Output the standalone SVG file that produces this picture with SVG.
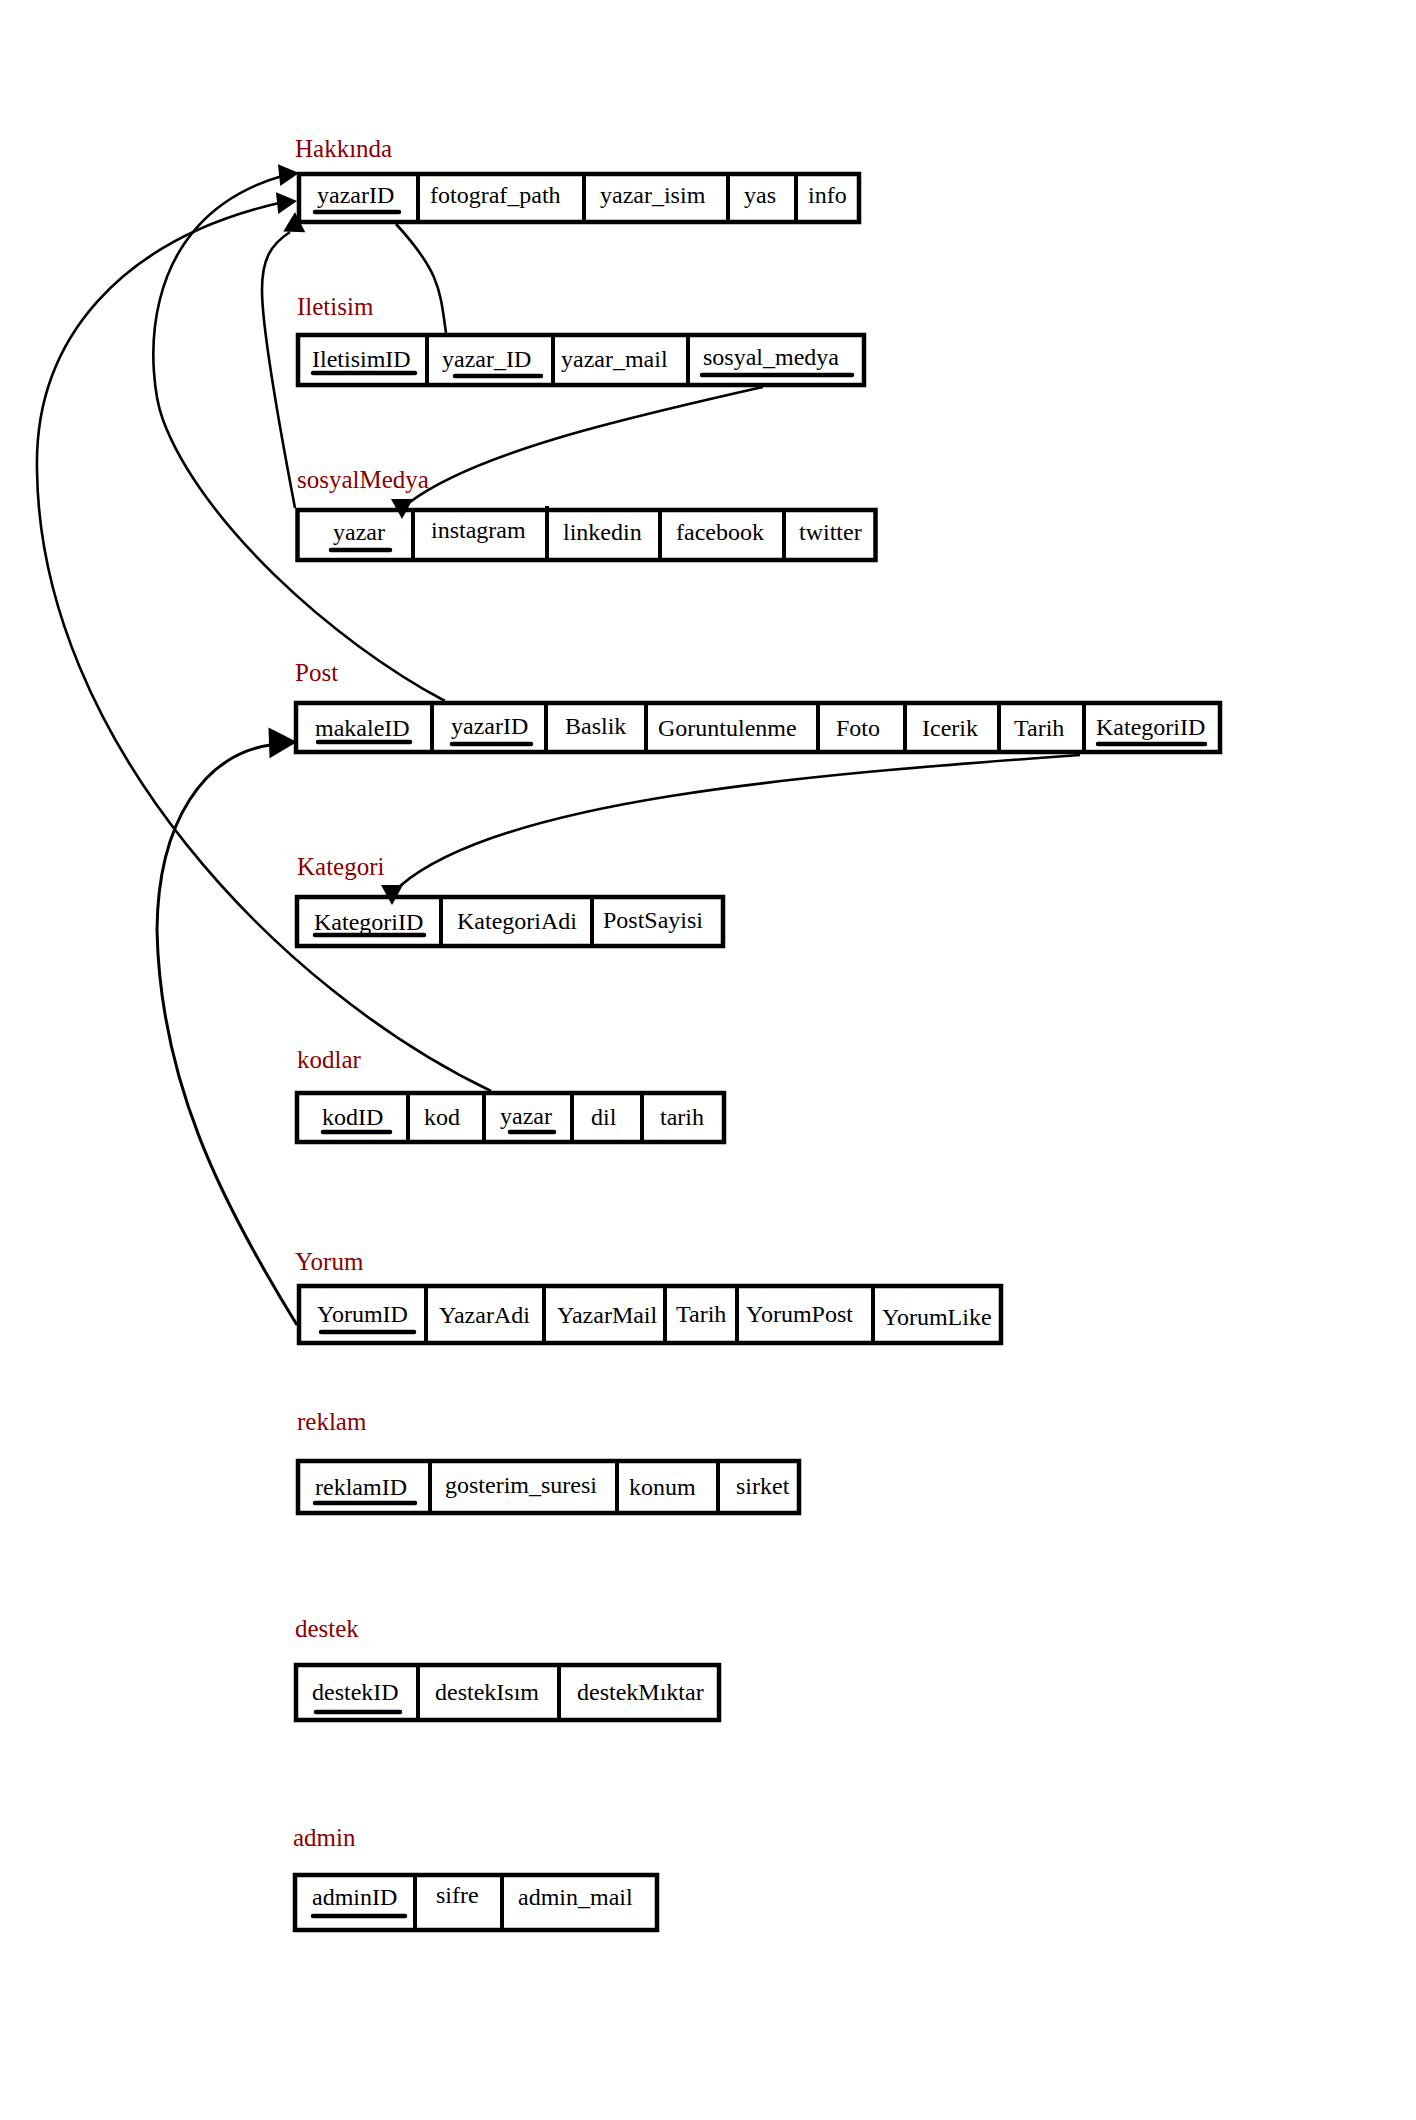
<svg xmlns="http://www.w3.org/2000/svg" xmlns:xlink="http://www.w3.org/1999/xlink" width="1416" height="2120" viewBox="0 0 1416 2120">
  <style>
    .title { font-family: "Liberation Serif", "Times New Roman", serif; font-size: 25px; fill: #8b0000; }
    .field { font-family: "Liberation Serif", "Times New Roman", serif; font-size: 24px; fill: #000; }
    .box { fill: #fff; stroke: #000; stroke-width: 4.5; }
    .sep { stroke: #000; stroke-width: 4; }
    .key { stroke: #000; stroke-width: 4.5; stroke-linecap: round; }
    .link { fill: none; stroke: #000; stroke-width: 2.6; }
    .head { fill: #000; }
  </style>
  <defs>
    <!-- filled arrowhead, tip at origin, pointing along +x -->
    <path id="arrow" d="M0,0 L-20,-11 L-20,11 Z"/>
  </defs>
  <rect width="1416" height="2120" fill="#fff"/>

  <!-- Hakkında -->
  <g id="hakkinda">
    <text class="title" x="295" y="157">Hakkında</text>
    <rect class="box" x="299" y="174" width="560" height="48"/>
    <line class="sep" x1="418" y1="174" x2="418" y2="222"/>
    <line class="sep" x1="584" y1="174" x2="584" y2="222"/>
    <line class="sep" x1="728" y1="174" x2="728" y2="222"/>
    <line class="sep" x1="796" y1="174" x2="796" y2="222"/>
    <text class="field" x="317" y="203">yazarID</text>
    <line class="key" x1="315" y1="212" x2="399" y2="212"/>
    <text class="field" x="430" y="203">fotograf_path</text>
    <text class="field" x="600" y="203">yazar_isim</text>
    <text class="field" x="744" y="203">yas</text>
    <text class="field" x="808" y="203">info</text>
  </g>

  <!-- Iletisim -->
  <g id="iletisim">
    <text class="title" x="297" y="315">Iletisim</text>
    <rect class="box" x="298" y="335" width="566" height="50"/>
    <line class="sep" x1="427" y1="335" x2="427" y2="385"/>
    <line class="sep" x1="553" y1="335" x2="553" y2="385"/>
    <line class="sep" x1="688" y1="335" x2="688" y2="385"/>
    <text class="field" x="312" y="367">IletisimID</text>
    <line class="key" x1="313" y1="373" x2="415" y2="373"/>
    <text class="field" x="442" y="367">yazar_ID</text>
    <line class="key" x1="455" y1="376" x2="541" y2="376"/>
    <text class="field" x="561" y="367">yazar_mail</text>
    <text class="field" x="703" y="365">sosyal_medya</text>
    <line class="key" x1="702" y1="375" x2="852" y2="375"/>
  </g>

  <!-- sosyalMedya -->
  <g id="sosyalMedya">
    <text class="title" x="297" y="488">sosyalMedya</text>
    <rect class="box" x="297.5" y="510" width="578" height="50"/>
    <line class="sep" x1="413" y1="510" x2="413" y2="560"/>
    <line class="sep" x1="547" y1="506" x2="547" y2="560"/>
    <line class="sep" x1="660" y1="510" x2="660" y2="560"/>
    <line class="sep" x1="784" y1="510" x2="784" y2="560"/>
    <text class="field" x="333" y="540">yazar</text>
    <line class="key" x1="331" y1="550" x2="390" y2="550"/>
    <text class="field" x="431" y="538">instagram</text>
    <text class="field" x="563" y="540">linkedin</text>
    <text class="field" x="676" y="540">facebook</text>
    <text class="field" x="799" y="540">twitter</text>
  </g>

  <!-- Post -->
  <g id="post">
    <text class="title" x="295" y="681">Post</text>
    <rect class="box" x="296" y="703" width="924" height="49"/>
    <line class="sep" x1="432" y1="703" x2="432" y2="752"/>
    <line class="sep" x1="546" y1="703" x2="546" y2="752"/>
    <line class="sep" x1="646" y1="703" x2="646" y2="752"/>
    <line class="sep" x1="818" y1="703" x2="818" y2="752"/>
    <line class="sep" x1="905" y1="703" x2="905" y2="752"/>
    <line class="sep" x1="999" y1="703" x2="999" y2="752"/>
    <line class="sep" x1="1084" y1="703" x2="1084" y2="752"/>
    <text class="field" x="315" y="736">makaleID</text>
    <line class="key" x1="318" y1="742" x2="410" y2="742"/>
    <text class="field" x="451" y="734">yazarID</text>
    <line class="key" x1="452" y1="744" x2="531" y2="744"/>
    <text class="field" x="565" y="734">Baslik</text>
    <text class="field" x="658" y="736">Goruntulenme</text>
    <text class="field" x="836" y="736">Foto</text>
    <text class="field" x="922" y="736">Icerik</text>
    <text class="field" x="1014" y="736">Tarih</text>
    <text class="field" x="1096" y="735">KategoriID</text>
    <line class="key" x1="1098" y1="744" x2="1205" y2="744"/>
  </g>

  <!-- Kategori -->
  <g id="kategori">
    <text class="title" x="297" y="875">Kategori</text>
    <rect class="box" x="297" y="897" width="426" height="49"/>
    <line class="sep" x1="441" y1="897" x2="441" y2="946"/>
    <line class="sep" x1="592" y1="897" x2="592" y2="946"/>
    <text class="field" x="314" y="930">KategoriID</text>
    <line class="key" x1="315" y1="935" x2="424" y2="935"/>
    <text class="field" x="457" y="929">KategoriAdi</text>
    <text class="field" x="603" y="928">PostSayisi</text>
  </g>

  <!-- kodlar -->
  <g id="kodlar">
    <text class="title" x="297" y="1068">kodlar</text>
    <rect class="box" x="297" y="1093" width="427" height="49"/>
    <line class="sep" x1="408" y1="1093" x2="408" y2="1142"/>
    <line class="sep" x1="484" y1="1093" x2="484" y2="1142"/>
    <line class="sep" x1="572" y1="1093" x2="572" y2="1142"/>
    <line class="sep" x1="642" y1="1093" x2="642" y2="1142"/>
    <text class="field" x="322" y="1125">kodID</text>
    <line class="key" x1="323" y1="1132" x2="390" y2="1132"/>
    <text class="field" x="424" y="1125">kod</text>
    <text class="field" x="500" y="1124">yazar</text>
    <line class="key" x1="510" y1="1132" x2="554" y2="1132"/>
    <text class="field" x="591" y="1125">dil</text>
    <text class="field" x="660" y="1125">tarih</text>
  </g>

  <!-- Yorum -->
  <g id="yorum">
    <text class="title" x="295" y="1270">Yorum</text>
    <rect class="box" x="299" y="1286" width="702" height="57"/>
    <line class="sep" x1="426" y1="1286" x2="426" y2="1343"/>
    <line class="sep" x1="544" y1="1286" x2="544" y2="1343"/>
    <line class="sep" x1="665" y1="1286" x2="665" y2="1343"/>
    <line class="sep" x1="737" y1="1286" x2="737" y2="1343"/>
    <line class="sep" x1="873" y1="1286" x2="873" y2="1343"/>
    <text class="field" x="317" y="1322">YorumID</text>
    <line class="key" x1="321" y1="1332" x2="414" y2="1332"/>
    <text class="field" x="439" y="1323">YazarAdi</text>
    <text class="field" x="557" y="1323">YazarMail</text>
    <text class="field" x="676" y="1322">Tarih</text>
    <text class="field" x="746" y="1322">YorumPost</text>
    <text class="field" x="882" y="1325">YorumLike</text>
  </g>

  <!-- reklam -->
  <g id="reklam">
    <text class="title" x="297" y="1430">reklam</text>
    <rect class="box" x="298" y="1461" width="501" height="52"/>
    <line class="sep" x1="430" y1="1461" x2="430" y2="1513"/>
    <line class="sep" x1="617" y1="1461" x2="617" y2="1513"/>
    <line class="sep" x1="718" y1="1461" x2="718" y2="1513"/>
    <text class="field" x="315" y="1495">reklamID</text>
    <line class="key" x1="315" y1="1503" x2="415" y2="1503"/>
    <text class="field" x="445" y="1493">gosterim_suresi</text>
    <text class="field" x="629" y="1495">konum</text>
    <text class="field" x="736" y="1494">sirket</text>
  </g>

  <!-- destek -->
  <g id="destek">
    <text class="title" x="295" y="1637">destek</text>
    <rect class="box" x="296" y="1665" width="423" height="55"/>
    <line class="sep" x1="418" y1="1665" x2="418" y2="1720"/>
    <line class="sep" x1="559" y1="1665" x2="559" y2="1720"/>
    <text class="field" x="312" y="1700">destekID</text>
    <line class="key" x1="316" y1="1712" x2="400" y2="1712"/>
    <text class="field" x="435" y="1700">destekIsım</text>
    <text class="field" x="577" y="1700">destekMıktar</text>
  </g>

  <!-- admin -->
  <g id="admin">
    <text class="title" x="293" y="1846">admin</text>
    <rect class="box" x="295" y="1875" width="362" height="55"/>
    <line class="sep" x1="415" y1="1875" x2="415" y2="1930"/>
    <line class="sep" x1="502" y1="1875" x2="502" y2="1930"/>
    <text class="field" x="312" y="1905">adminID</text>
    <line class="key" x1="313" y1="1916" x2="405" y2="1916"/>
    <text class="field" x="436" y="1903">sifre</text>
    <text class="field" x="518" y="1905">admin_mail</text>
  </g>

  <!-- relations -->
  <g id="connectors">
    <!-- Hakkında.yazarID – Iletisim.yazar_ID -->
    <path class="link" d="M396,224 C440,272 440,290 446,333"/>
    <!-- Iletisim.sosyal_medya -> sosyalMedya.yazar -->
    <path class="link" d="M763,387 C640,415 480,450 410,502"/>
    <use xlink:href="#arrow" class="head" transform="translate(402,519) rotate(90)"/>
    <!-- sosyalMedya -> Hakkında -->
    <path class="link" d="M295,508 C282,440 262,330 262,290 C262,260 270,245 290,232"/>
    <use xlink:href="#arrow" class="head" transform="translate(295,212) rotate(-88)"/>
    <!-- Post.yazarID -> Hakkında.yazarID -->
    <path class="link" d="M445,701 C330,640 200,520 163,420 C148,380 130,220 282,176"/>
    <use xlink:href="#arrow" class="head" transform="translate(299,173) rotate(-6)"/>
    <!-- kodlar.yazar -> Hakkında.yazarID -->
    <path class="link" d="M491,1091 C280,990 40,740 37,470 C34,340 120,240 279,203"/>
    <use xlink:href="#arrow" class="head" transform="translate(297,201) rotate(-6)"/>
    <!-- Yorum -> Post.makaleID -->
    <path class="link" d="M297,1325 C220,1200 160,1080 157,930 C158,820 205,755 270,745" style="stroke-width:3"/>
    <use xlink:href="#arrow" class="head" transform="translate(297,742) rotate(-2) scale(1.4)"/>
    <!-- Post.KategoriID -> Kategori.KategoriID -->
    <path class="link" d="M1080,755 C800,775 500,800 400,886"/>
    <use xlink:href="#arrow" class="head" transform="translate(392,905) rotate(90)"/>
  </g>
</svg>
